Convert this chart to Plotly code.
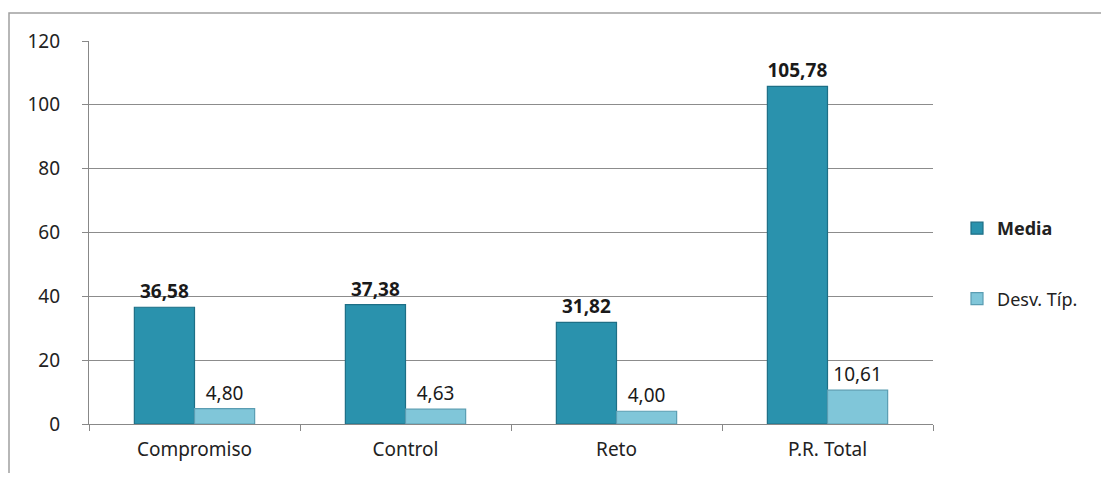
import plotly.graph_objects as go

categories = ["Compromiso", "Control", "Reto", "P.R. Total"]
media = [36.58, 37.38, 31.82, 105.78]
desv = [4.80, 4.63, 4.00, 10.61]
y_ticks = [0, 20, 40, 60, 80, 100, 120]

# page body has an 8px margin; figure coordinates = screen - 8
OFF = 8
W, H = 1109 - 2 * OFF, 481 - 2 * OFF
ml, mt = 89 - OFF, 41 - OFF
mr = W - (933 - OFF)
mb = H - (424 - OFF)
pw, ph = W - ml - mr, H - mt - mb

def px_x(p):
    return (p - OFF - ml) / pw

def px_y(p):
    return (H - mb - (p - OFF)) / ph

FONT = "Noto Sans"

fig = go.Figure()
fig.add_trace(go.Bar(
    x=categories, y=media, name="<b>Media</b>",
    marker=dict(color="#2a92ad", line=dict(color="#1d6f86", width=1.2)),
    text=media, texttemplate="<b>%{y:.2f}</b>", textposition="outside",
    textfont=dict(family=FONT, size=19, color="#1a1a1a"),
    cliponaxis=False, legendgroup="a",
))
fig.add_trace(go.Bar(
    x=categories, y=desv, name="Desv. Típ.",
    marker=dict(color="#80c6d9", line=dict(color="#5a9db2", width=1.2)),
    text=desv, texttemplate="%{y:.2f}", textposition="outside",
    textfont=dict(family=FONT, size=19, color="#1a1a1a"),
    cliponaxis=False, legendgroup="b",
))

fig.add_shape(type="rect", xref="paper", yref="paper",
              x0=px_x(9), x1=px_x(1130), y0=px_y(500), y1=px_y(13),
              line=dict(color="#a0a0a0", width=1.5), fillcolor="rgba(0,0,0,0)",
              layer="below")

fig.update_layout(
    width=W, height=H,
    margin=dict(l=ml, r=mr, t=mt, b=mb),
    paper_bgcolor="white", plot_bgcolor="white",
    separators=",.",
    barmode="group", bargap=0.43, bargroupgap=0,
    font=dict(family=FONT, size=19, color="#222222"),
    showlegend=True,
    legend=dict(x=px_x(957), y=px_y(210), xanchor="left", yanchor="top",
                traceorder="grouped", tracegroupgap=44,
                font=dict(family=FONT, size=18, color="#222222")),
    xaxis=dict(showline=True, linecolor="#888888", linewidth=1.2,
               ticks="outside", tickson="boundaries", ticklen=6,
               tickcolor="#888888", ticklabelstandoff=8,
               showgrid=False),
    yaxis=dict(range=[0, 120], tickvals=y_ticks, showline=True,
               linecolor="#888888", linewidth=1.2, ticks="outside",
               ticklen=6, tickcolor="#888888", ticklabelstandoff=18,
               showgrid=True, gridcolor="#8c8c8c", gridwidth=1,
               zeroline=False),
)

fig.write_html("out.html")
